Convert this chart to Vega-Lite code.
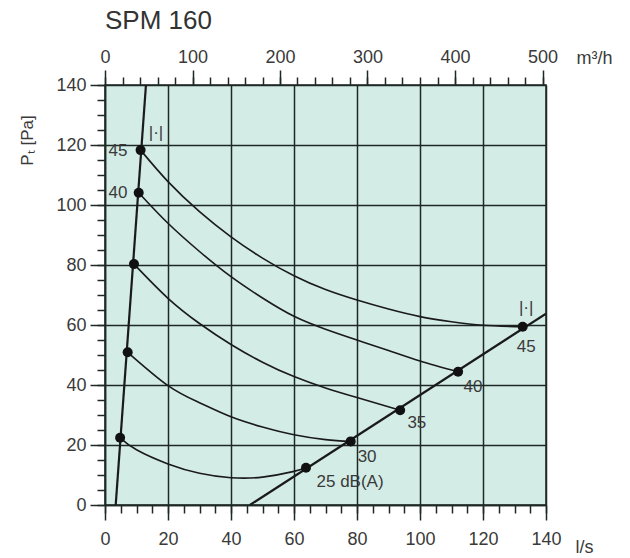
{
  "$schema": "https://vega.github.io/schema/vega-lite/v6.json",
  "width": 441,
  "height": 420,
  "autosize": "none",
  "padding": {"left": 105, "top": 85, "right": 84, "bottom": 53},
  "title": {"text": "SPM 160", "anchor": "start", "frame": "group", "fontSize": 26, "fontWeight": "normal", "color": "#333333", "font": "Liberation Sans", "offset": 14, "dx": 0},
  "config": {
    "view": {"fill": "#d4ece6", "stroke": "#1e2925", "strokeWidth": 1.5},
    "axis": {"labelFont": "Liberation Sans", "titleFont": "Liberation Sans", "labelColor": "#3a3a3a", "titleColor": "#3a3a3a", "labelFontSize": 18, "titleFontSize": 18, "titleFontWeight": "normal", "tickColor": "#1e2925", "domainColor": "#1e2925", "tickWidth": 1.5, "domainWidth": 1.5, "gridColor": "#1e2925", "gridWidth": 1.5, "gridOpacity": 1}
  },
  "layer": [
    {
      "data": {"values": [{"x": 3.4, "y": 0}, {"x": 13.0, "y": 140}]},
      "mark": {"type": "line", "color": "#1a1a1a", "strokeWidth": 2.2},
      "encoding": {
        "x": {"field": "x", "type": "quantitative", "scale": {"domain": [0, 140], "nice": false},
          "axis": {"orient": "bottom", "values": [0, 20, 40, 60, 80, 100, 120, 140], "grid": true, "tickSize": 15, "labelPadding": 10, "title": "l/s", "titleX": 479, "titleY": 42, "titleAlign": "center", "titleBaseline": "middle", "labelFlush": false}},
        "y": {"field": "y", "type": "quantitative", "scale": {"domain": [0, 140], "nice": false},
          "axis": {"orient": "left", "values": [0, 20, 40, 60, 80, 100, 120, 140], "grid": true, "tickSize": 15, "labelPadding": 4, "title": "Pₜ [Pa]", "titleX": -78, "titleY": 55, "titleAlign": "center", "titleBaseline": "middle", "titleFontSize": 17, "labelFlush": false}}
      }
    },
    {
      "data": {"values": [{"x": 46, "y": 0}, {"x": 140, "y": 63.8}]},
      "mark": {"type": "line", "color": "#1a1a1a", "strokeWidth": 2.2, "clip": true},
      "encoding": {
        "x": {"field": "x", "type": "quantitative",
          "axis": {"orient": "bottom", "values": [0, 5, 10, 15, 20, 25, 30, 35, 40, 45, 50, 55, 60, 65, 70, 75, 80, 85, 90, 95, 100, 105, 110, 115, 120, 125, 130, 135, 140], "labels": false, "grid": false, "domain": false, "tickSize": 8, "title": null}},
        "y": {"field": "y", "type": "quantitative",
          "axis": {"orient": "left", "values": [0, 5, 10, 15, 20, 25, 30, 35, 40, 45, 50, 55, 60, 65, 70, 75, 80, 85, 90, 95, 100, 105, 110, 115, 120, 125, 130, 135, 140], "labels": false, "grid": false, "domain": false, "tickSize": 8, "title": null}}
      }
    },
    {
      "data": {"values": [
        {"level": "45", "x": 11.3, "y": 118.3}, {"level": "45", "x": 20, "y": 107.8}, {"level": "45", "x": 30, "y": 97.8}, {"level": "45", "x": 40, "y": 89.4}, {"level": "45", "x": 50, "y": 82.3}, {"level": "45", "x": 60, "y": 76.4}, {"level": "45", "x": 70, "y": 71.8}, {"level": "45", "x": 80, "y": 68.3}, {"level": "45", "x": 90, "y": 65.3}, {"level": "45", "x": 100, "y": 62.8}, {"level": "45", "x": 110, "y": 61.1}, {"level": "45", "x": 120, "y": 59.9}, {"level": "45", "x": 132.6, "y": 59.4},
        {"level": "40", "x": 10.7, "y": 104.1}, {"level": "40", "x": 20, "y": 93.9}, {"level": "40", "x": 30, "y": 84.5}, {"level": "40", "x": 40, "y": 76.1}, {"level": "40", "x": 50, "y": 69}, {"level": "40", "x": 60, "y": 62.9}, {"level": "40", "x": 70, "y": 58.6}, {"level": "40", "x": 80, "y": 55}, {"level": "40", "x": 90, "y": 51.5}, {"level": "40", "x": 100, "y": 48}, {"level": "40", "x": 112.1, "y": 44.4},
        {"level": "35", "x": 9.2, "y": 80.3}, {"level": "35", "x": 20, "y": 68.9}, {"level": "35", "x": 30, "y": 60.5}, {"level": "35", "x": 40, "y": 53.5}, {"level": "35", "x": 50, "y": 47.6}, {"level": "35", "x": 60, "y": 42.8}, {"level": "35", "x": 70, "y": 39}, {"level": "35", "x": 80, "y": 35.8}, {"level": "35", "x": 93.7, "y": 31.6},
        {"level": "30", "x": 7.2, "y": 50.9}, {"level": "30", "x": 20, "y": 39.8}, {"level": "30", "x": 30, "y": 34.1}, {"level": "30", "x": 40, "y": 29.4}, {"level": "30", "x": 50, "y": 26}, {"level": "30", "x": 60, "y": 23.4}, {"level": "30", "x": 70, "y": 21.8}, {"level": "30", "x": 78, "y": 21.2},
        {"level": "25", "x": 4.8, "y": 22.4}, {"level": "25", "x": 10, "y": 18.4}, {"level": "25", "x": 20, "y": 13.7}, {"level": "25", "x": 30, "y": 10.6}, {"level": "25", "x": 40, "y": 9.1}, {"level": "25", "x": 50, "y": 9.3}, {"level": "25", "x": 60, "y": 11.2}, {"level": "25", "x": 63.8, "y": 12.4}
      ]},
      "mark": {"type": "line", "color": "#1a1a1a", "strokeWidth": 1.6, "interpolate": "natural"},
      "encoding": {
        "x": {"field": "x", "type": "quantitative",
          "axis": {"orient": "top", "values": [0, 27.7778, 55.5556, 83.3333, 111.1111, 138.8889], "labelExpr": "round(datum.value * 3.6)", "grid": false, "domain": false, "tickSize": 15, "labelPadding": 4, "title": "m³/h", "titleX": 489, "titleY": -27, "titleAlign": "center", "titleBaseline": "middle", "labelFlush": false}},
        "y": {"field": "y", "type": "quantitative", "axis": null},
        "detail": {"field": "level", "type": "nominal"}
      }
    },
    {
      "data": {"values": [
        {"x": 11.3, "y": 118.3}, {"x": 10.7, "y": 104.1}, {"x": 9.2, "y": 80.3}, {"x": 7.2, "y": 50.9}, {"x": 4.8, "y": 22.4},
        {"x": 63.8, "y": 12.4}, {"x": 78, "y": 21.2}, {"x": 93.7, "y": 31.6}, {"x": 112.1, "y": 44.4}, {"x": 132.6, "y": 59.4}
      ]},
      "mark": {"type": "point", "filled": true, "color": "#111111", "opacity": 1, "size": 100},
      "encoding": {
        "x": {"field": "x", "type": "quantitative",
          "axis": {"orient": "top", "values": [0, 5.5556, 11.1111, 16.6667, 22.2222, 27.7778, 33.3333, 38.8889, 44.4444, 50, 55.5556, 61.1111, 66.6667, 72.2222, 77.7778, 83.3333, 88.8889, 94.4444, 100, 105.5556, 111.1111, 116.6667, 122.2222, 127.7778, 133.3333, 138.8889], "labels": false, "grid": false, "domain": false, "tickSize": 8, "title": null}},
        "y": {"field": "y", "type": "quantitative", "axis": null}
      }
    },
    {
      "data": {"values": [
        {"x": 4.1, "y": 118, "label": "45"}, {"x": 4.1, "y": 104, "label": "40"}, {"x": 16.2, "y": 124, "label": "|·|"},
        {"x": 77.8, "y": 7.7, "label": "25 dB(A)"}, {"x": 83.2, "y": 16, "label": "30"}, {"x": 99, "y": 27.3, "label": "35"}, {"x": 116.8, "y": 39.3, "label": "40"}, {"x": 133.7, "y": 52.7, "label": "45"}, {"x": 133.7, "y": 65.7, "label": "|·|"}
      ]},
      "mark": {"type": "text", "font": "Liberation Sans", "fontSize": 17, "color": "#3a3a3a", "align": "center", "baseline": "middle"},
      "encoding": {
        "x": {"field": "x", "type": "quantitative", "axis": null},
        "y": {"field": "y", "type": "quantitative", "axis": null},
        "text": {"field": "label", "type": "nominal"}
      }
    }
  ],
  "resolve": {"axis": {"x": "independent", "y": "independent"}}
}
